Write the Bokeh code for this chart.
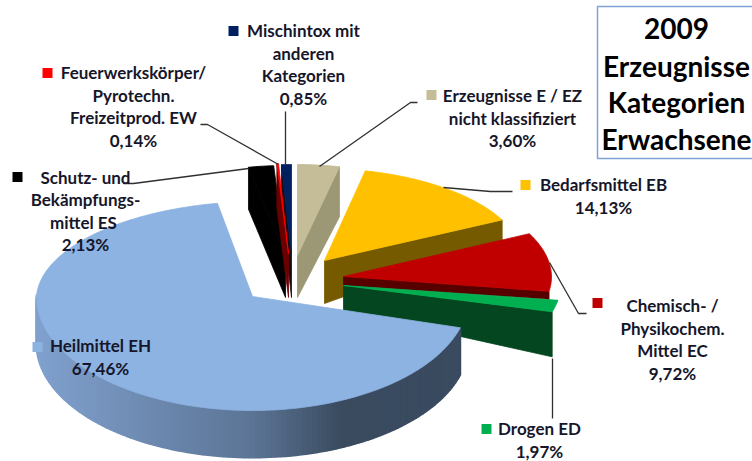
import numpy as np
from bokeh.plotting import figure
from bokeh.core.properties import value
from bokeh.embed import file_html
from bokeh.resources import INLINE

categories = ["Erzeugnisse E / EZ nicht klassifiziert", "Bedarfsmittel EB", "Chemisch- / Physikochem. Mittel EC",
              "Drogen ED", "Heilmittel EH", "Schutz- und Bekämpfungsmittel ES",
              "Feuerwerkskörper/ Pyrotechn. Freizeitprod. EW", "Mischintox mit anderen Kategorien"]
values = [3.60, 14.13, 9.72, 1.97, 67.46, 2.13, 0.14, 0.85]
colors = ["#C4BD97", "#FFC000", "#C00000", "#00B050", "#8DB3E2", "#000000", "#FF0000", "#002060"]
wall_colors = ["#9C9774", "#765A00", "#560000", "#03461F", "#3B4B60", "#000000", "#6A0000", "#1A0A10"]
label_lines = [["Erzeugnisse E / EZ", "nicht klassifiziert", "3,60%"],
               ["Bedarfsmittel EB", "14,13%"],
               ["Chemisch- /", "Physikochem.", "Mittel EC", "9,72%"],
               ["Drogen ED", "1,97%"],
               ["Heilmittel EH", "67,46%"],
               ["Schutz- und", "Bekämpfungs-", "mittel  ES", "2,13%"],
               ["Feuerwerkskörper/", "Pyrotechn.", "Freizeitprod. EW", "0,14%"],
               ["Mischintox mit", "anderen", "Kategorien", "0,85%"]]
title_lines = ["2009", "Erzeugnisse", "Kategorien", "Erwachsene"]

# layout: apex x, apex y, a, b north, b south, wall depth at apex, wall depth at rim, wall edge, skew of north half
geom = [
    (297, 255, 187, 91, 91, 42, 50, "end", 0),
    (324, 260, 200, 92, 92, 43, 20, "end", 0.045),
    (343, 276, 208, 97, 97, 9, 8, "end", 0.02),
    (343, 285, 217, 96, 96, 25, 45, "end", 0),
    (252, 296, 216, 95, 114, 0, 0, None, -0.075),
    (285, 255, 190, 90, 90, 42, 42, "start", 0),
    (288, 253, 187, 90, 90, 44, 44, "start", 0),
    (291, 254, 187, 90, 90, 43, 43, "start", 0),
]
draw_order = [1, 2, 3, 0, 5, 7, 6, 4]
# label layout: centre x, first line centre y, line step, square x, square y
label_pos = [(512, 95, 22.5, 426, 90), (603, 184, 23, 520, 180), (672, 305, 22.7, 592, 298),
             (539, 428, 23, 481, 424), (100, 345, 23, 32, 342), (85, 177, 22.4, 12, 172),
             (133, 72, 22.7, 42, 68), (303, 30, 22.7, 228, 26)]
leaders = [([417, 410, 319], [102, 102, 166]), ([512, 490, 443], [191, 191, 187]),
           ([586, 578, 549], [313, 313, 262]), ([552, 552], [358, 418]),
           ([123, 133, 248], [183, 183, 168]), ([200, 207, 278], [124, 124, 164]),
           ([285, 285], [111, 165])]

W, H = 752, 461
p = figure(width=W, height=H, x_range=(0, W), y_range=(H, 0), toolbar_location=None,
           output_backend="svg", min_border=0, outline_line_color=None,
           background_fill_color="white", border_fill_color="white", margin=(0, 0, 0, 0))
p.xaxis.visible = False
p.yaxis.visible = False
p.xgrid.visible = False
p.ygrid.visible = False

edges = np.cumsum([0] + values) / sum(values) * 2 * np.pi


def rim(g, t):
    x0, y0, a, bn, bs = g[:5]
    c = np.cos(t)
    dy = np.where(c >= 0, bn, bs) * c
    return x0 + a * np.sin(t) - g[8] * np.maximum(dy, 0), y0 - dy


def wall_rgb(x):
    xs = [38, 250, 340, 470]
    return [np.interp(x, xs, ch) for ch in ([128, 92, 58, 58], [160, 117, 75, 75], [205, 150, 96, 96])]


def hexc(rgb):
    return "#%02X%02X%02X" % tuple(int(round(v)) for v in rgb)


for i in draw_order:
    g = geom[i]
    x0, y0 = g[0], g[1]
    t0, t1 = edges[i], edges[i + 1]
    if g[7] is None:
        # curved outer wall, shaded strip by strip along the rim
        tt = np.linspace(t0, 1.5 * np.pi + 0.02, 120)
        xs, ys = rim(g, tt)
        depth = 47
        for k in range(len(tt) - 1):
            col = hexc(wall_rgb((xs[k] + xs[k + 1]) / 2))
            p.patch([xs[k], xs[k + 1], xs[k + 1], xs[k]],
                    [ys[k], ys[k + 1], ys[k + 1] + depth, ys[k] + depth],
                    fill_color=col, line_color=col, line_width=2)
    else:
        te = t1 if g[7] == "end" else t0
        ex, ey = rim(g, np.array([te]))
        p.patch([x0, ex[0], ex[0], x0], [y0, ey[0], ey[0] + g[6], y0 + g[5]],
                fill_color=wall_colors[i], line_color=wall_colors[i], line_width=0.8)
    tt = np.linspace(t0, t1, max(6, int((t1 - t0) * 60)))
    xs, ys = rim(g, tt)
    p.patch(np.r_[x0, xs], np.r_[y0, ys], fill_color=colors[i], line_color=colors[i], line_width=0.8)

for xs, ys in leaders:
    p.line(xs, ys, line_color="#303030", line_width=1.3)

for i, lines in enumerate(label_lines):
    cx, cy, step, sx, sy = label_pos[i]
    p.rect([sx + 5], [sy + 4.5], width=10, height=10, fill_color=colors[i], line_color=None)
    ts = [cy + k * step for k in range(len(lines))]
    p.text([cx] * len(lines), ts, text=lines, text_font=value("Lato"), text_font_style="bold",
           text_font_size="17px", text_color="#16162A", text_align="center", text_baseline="middle")

p.quad(left=[597], right=[760], top=[6], bottom=[158], fill_color=None, line_color="#7FA3D3", line_width=1.5)
p.text([676] * 4, [28, 65, 101, 138], text=title_lines, text_font=value("Lato"), text_font_style="bold",
       text_font_size="28px", text_color="#000000", text_align="center", text_baseline="middle")

open("out.html", "w").write(file_html(p, INLINE))
